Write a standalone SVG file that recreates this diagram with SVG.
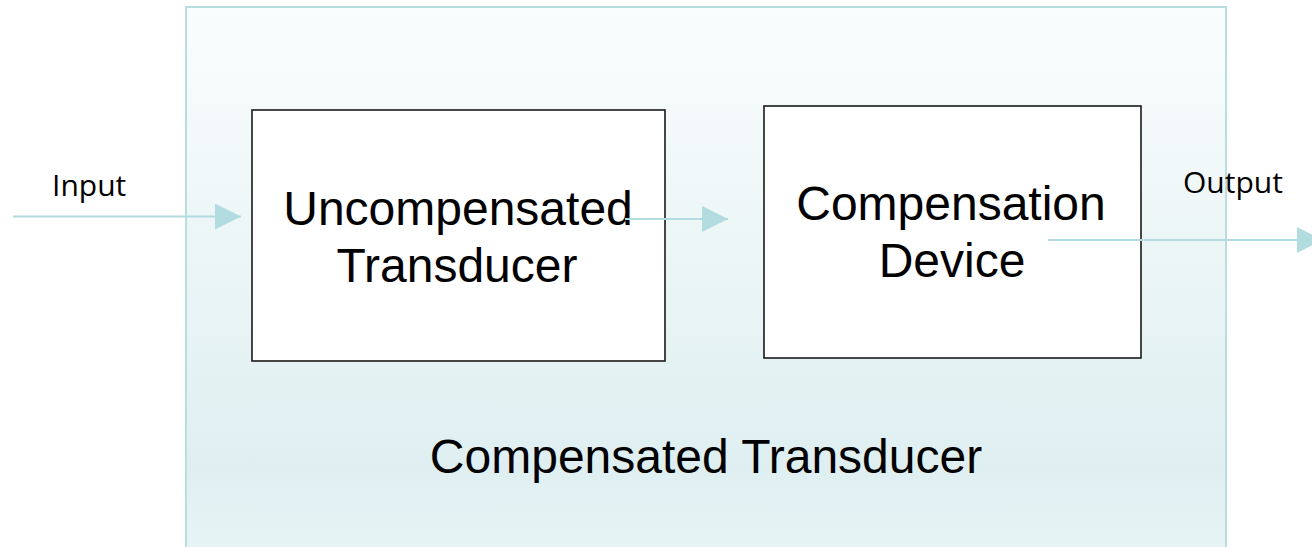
<svg xmlns="http://www.w3.org/2000/svg" width="1312" height="547" viewBox="0 0 1312 547">
<defs>
<linearGradient id="bg" x1="0" y1="0" x2="0" y2="1">
<stop offset="0" stop-color="#fafdfd"/>
<stop offset="0.82" stop-color="#dfeff1"/>
<stop offset="1" stop-color="#e9f5f6"/>
</linearGradient>
<marker id="ah" markerWidth="26" markerHeight="26" viewBox="0 0 26 26" refX="26" refY="13" orient="auto" markerUnits="userSpaceOnUse">
<path d="M0,0 L26,13 L0,26 Z" fill="#b3dce0"/>
</marker>
<style>
.box{fill:#ffffff;stroke:#1a1a1a;stroke-width:1.6}
.big{font-family:"Liberation Sans",Arial,sans-serif;font-size:48px;fill:#000;text-anchor:middle}
.small{font-family:"Open Sans","Segoe UI",sans-serif;font-size:30px;fill:#000}
.conn{stroke:#b3dce0;stroke-width:2.2;fill:none}
</style>
</defs>
<g id="container">
<rect x="186" y="7" width="1040" height="560" fill="url(#bg)" stroke="#b8dee2" stroke-width="2"/>
<text class="big" x="706" y="473">Compensated Transducer</text>
</g>
<g id="node-uncompensated">
<rect class="box" x="252" y="110" width="413" height="251"/>
<text class="big" x="458" y="225">Uncompensated</text>
<text class="big" x="457" y="282">Transducer</text>
</g>
<g id="node-compensation">
<rect class="box" x="764" y="106" width="377" height="252"/>
<text class="big" x="951" y="220">Compensation</text>
<text class="big" x="952" y="277">Device</text>
</g>
<g id="labels">
<text class="small" x="52" y="196">Input</text>
<text class="small" x="1183" y="193">Output</text>
</g>
<g id="connectors">
<line class="conn" x1="13" y1="216.5" x2="241" y2="216.5" marker-end="url(#ah)"/>
<line class="conn" x1="625" y1="219" x2="728" y2="219" marker-end="url(#ah)"/>
<line class="conn" x1="1048" y1="240" x2="1323" y2="240" marker-end="url(#ah)"/>
</g>
</svg>
